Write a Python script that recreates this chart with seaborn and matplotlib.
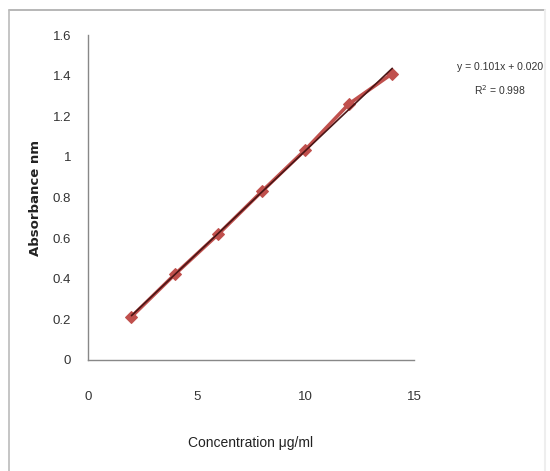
import matplotlib
matplotlib.use("Agg")
import matplotlib.pyplot as plt
import seaborn as sns
import pandas as pd
from matplotlib.lines import Line2D

concentration = [2, 4, 6, 8, 10, 12, 14]
absorbance = [0.213, 0.422, 0.620, 0.830, 1.035, 1.260, 1.410]
x_ticks = [0, 5, 10, 15]
y_ticks = [0, 0.2, 0.4, 0.6, 0.8, 1.0, 1.2, 1.4, 1.6]
y_tick_labels = ["0", "0.2", "0.4", "0.6", "0.8", "1", "1.2", "1.4", "1.6"]
equation_text = "y = 0.101x + 0.020"
r2_text = "R$^2$ = 0.998"

sns.set_style("white")
plt.rcParams['font.family'] = ['Liberation Sans Narrow', 'Liberation Sans', 'DejaVu Sans']

df = pd.DataFrame({"Concentration": concentration, "Absorbance": absorbance})

fig = plt.figure(figsize=(5.5, 4.71), dpi=100)
ax = fig.add_axes([88/550, 1 - 360/471, (414-88)/550, (360-35)/471])

sns.lineplot(data=df, x="Concentration", y="Absorbance", ax=ax, color="#C0504D",
             linewidth=2.6, marker="D", markersize=6, markeredgecolor="#C0504D",
             markerfacecolor="#C0504D", zorder=2)
sns.regplot(data=df, x="Concentration", y="Absorbance", ax=ax, scatter=False, ci=None,
            truncate=True, line_kws={"color": "#4a1515", "linewidth": 1.2, "zorder": 3})

ax.set_xlim(0, 15)
ax.set_ylim(0, 1.6)
ax.set_xticks(x_ticks)
ax.set_yticks(y_ticks)
ax.set_yticklabels(y_tick_labels)
ax.tick_params(axis="both", direction="out", length=4, width=0.8, color="#888888",
               labelsize=9.5, labelcolor="#333333")
ax.tick_params(axis="x", pad=18)
ax.tick_params(axis="y", pad=8)
for s in ["top", "right"]:
    ax.spines[s].set_visible(False)
for s in ["left", "bottom"]:
    ax.spines[s].set_color("#888888")
    ax.spines[s].set_linewidth(1.0)

ax.set_xlabel("Concentration μg/ml", fontsize=10, color="#222222", labelpad=24)
ax.set_ylabel("Absorbance nm", fontsize=9.5, fontweight="bold", color="#222222",
              family=['DejaVu Sans'], labelpad=8)

fig.text(500/550, 1 - 67/471, equation_text, ha="center", va="center", fontsize=7.5, color="#333333")
fig.text(500/550, 1 - 90/471, r2_text, ha="center", va="center", fontsize=7.5, color="#333333")

# chart frame
fig.add_artist(Line2D([9/550, 545/550], [1 - 10/471, 1 - 10/471], transform=fig.transFigure,
                      color="#aaaaaa", linewidth=1.2))
fig.add_artist(Line2D([9/550, 9/550], [1 - 10/471, 0], transform=fig.transFigure,
                      color="#bbbbbb", linewidth=1.2))
fig.add_artist(Line2D([545/550, 545/550], [1 - 10/471, 0], transform=fig.transFigure,
                      color="#eeeeee", linewidth=1.5))

fig.savefig("out.png", dpi=100)
